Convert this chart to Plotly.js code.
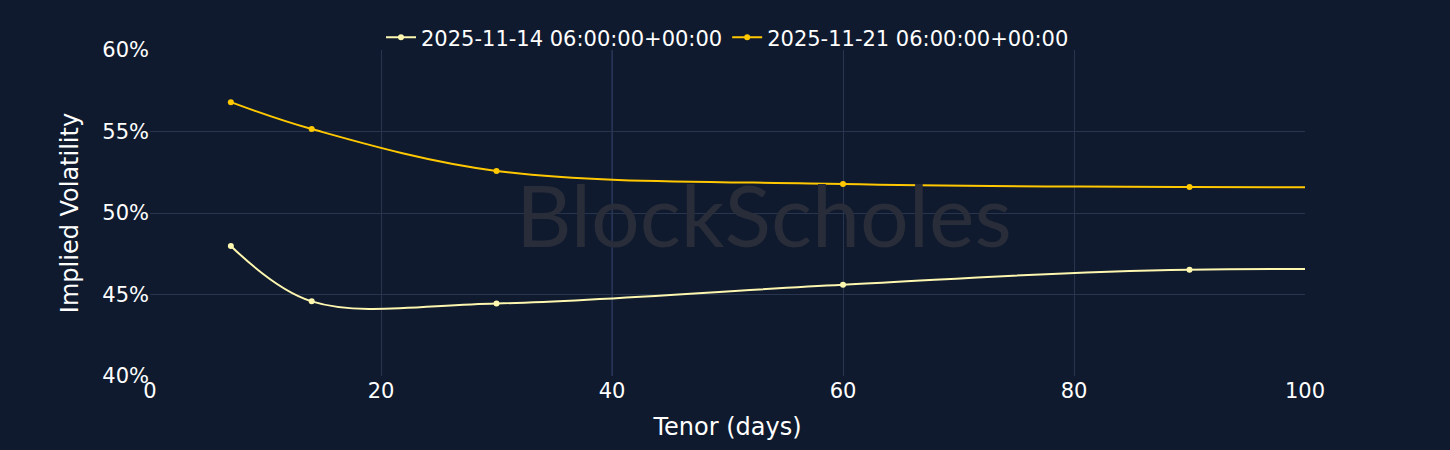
<!DOCTYPE html>
<html>
<head>
<meta charset="utf-8">
<script src="https://cdn.plot.ly/plotly-3.0.1.min.js"></script>
<style>html,body{margin:0;padding:0;background:#0f1a2e;}#chart{width:1450px;height:450px;}</style>
</head>
<body>
<div id="chart"></div>
<script>
// Tenor in days; the last point lies beyond the visible range
const tenorDays = [7, 14, 30, 60, 90, 180];
const seriesNames = ["2025-11-14 06:00:00+00:00", "2025-11-21 06:00:00+00:00"];
const iv20251114 = [47.98, 44.58, 44.45, 45.6, 46.52, 45.75];
const iv20251121 = [56.8, 55.15, 52.58, 51.78, 51.6, 51.4];
const xTicks = [0, 20, 40, 60, 80, 100];
const yTicks = [40, 45, 50, 55, 60];

const fontFam = "Verdana, 'DejaVu Sans', sans-serif";
const colors = ["#fdf7b0", "#ffc800"];

const traces = [iv20251114, iv20251121].map((vals, i) => ({
  x: tenorDays,
  y: vals,
  name: seriesNames[i],
  type: "scatter",
  mode: "lines+markers",
  line: {color: colors[i], width: 2, shape: "spline", smoothing: 1},
  marker: {color: colors[i], size: 6}
}));

const layout = {
  width: 1450, height: 450,
  paper_bgcolor: "#0f1a2e",
  plot_bgcolor: "#0f1a2e",
  margin: {l: 150, r: 145, t: 50, b: 74},
  font: {family: fontFam, color: "#ffffff", size: 21},
  showlegend: true,
  legend: {orientation: "h", x: 0.5, xanchor: "center", y: 0.975, yanchor: "bottom",
           font: {family: fontFam, size: 21, color: "#ffffff"}, bgcolor: "rgba(0,0,0,0)"},
  xaxis: {
    range: [0, 100], tickvals: xTicks, ticktext: xTicks.map(String),
    showgrid: true, gridcolor: "#29354f", gridwidth: 1, zeroline: false, showline: false,
    tickfont: {family: fontFam, size: 21, color: "#ffffff"},
    title: {text: "Tenor (days)", font: {family: fontFam, size: 24, color: "#ffffff"}, standoff: 16}
  },
  yaxis: {
    range: [40, 60], tickvals: yTicks, ticktext: yTicks.map(v => v + "%"),
    showgrid: true, gridcolor: "#29354f", gridwidth: 1, zeroline: false, showline: false,
    tickfont: {family: fontFam, size: 21, color: "#ffffff"},
    title: {text: "Implied Volatility", font: {family: fontFam, size: 24, color: "#ffffff"}, standoff: 16}
  },
  shapes: [{
    type: "line", xref: "x", yref: "paper", x0: 40, x1: 40, y0: 0, y1: 1,
    line: {color: "#263d6c", width: 1}, layer: "below"
  }],
  annotations: [{
    text: "BlockScholes", xref: "paper", yref: "paper", x: 0.532, y: 0.5,
    xanchor: "center", yanchor: "middle", showarrow: false,
    font: {family: "Lato, 'Open Sans', sans-serif", size: 86, color: "#292d39"}
  }]
};

Plotly.newPlot("chart", traces, layout, {displayModeBar: false, staticPlot: true});
</script>
</body>
</html>
